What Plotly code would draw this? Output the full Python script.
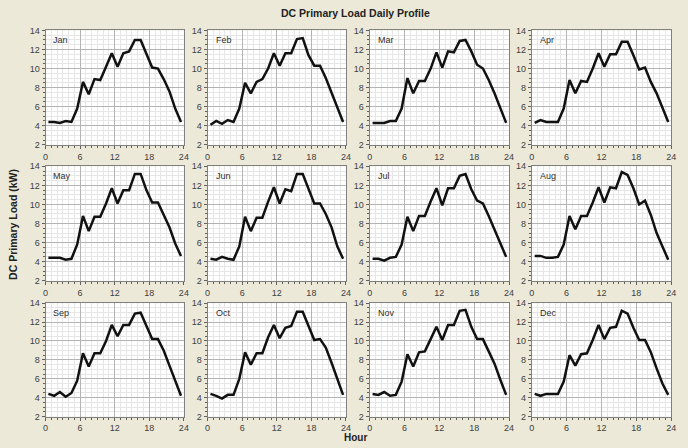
import plotly.graph_objects as go

hours = [h + 0.5 for h in range(24)]
months = ["Jan", "Feb", "Mar", "Apr", "May", "Jun", "Jul", "Aug", "Sep", "Oct", "Nov", "Dec"]

jan = [4.4, 4.4, 4.3, 4.5, 4.4, 5.8, 8.6, 7.3, 8.9, 8.8, 10.2, 11.6, 10.2, 11.6, 11.8, 13.0, 13.0, 11.6, 10.1, 10.0, 8.9, 7.6, 5.8, 4.4]
feb = [4.1, 4.5, 4.2, 4.6, 4.4, 5.8, 8.5, 7.4, 8.6, 8.9, 10.0, 11.6, 10.3, 11.6, 11.6, 13.1, 13.2, 11.4, 10.3, 10.3, 9.0, 7.5, 6.0, 4.4]
mar = [4.3, 4.3, 4.3, 4.5, 4.5, 5.8, 9.0, 7.4, 8.7, 8.7, 10.0, 11.7, 10.1, 11.8, 11.7, 12.9, 13.0, 11.8, 10.4, 10.0, 8.8, 7.4, 5.9, 4.3]
apr = [4.3, 4.6, 4.4, 4.4, 4.4, 5.8, 8.8, 7.4, 8.7, 8.6, 10.0, 11.6, 10.2, 11.5, 11.5, 12.8, 12.8, 11.4, 9.9, 10.1, 8.6, 7.4, 5.8, 4.4]
may = [4.4, 4.4, 4.4, 4.2, 4.3, 5.8, 8.8, 7.2, 8.7, 8.7, 10.1, 11.7, 10.1, 11.5, 11.5, 13.2, 13.2, 11.5, 10.2, 10.2, 8.9, 7.6, 5.9, 4.6]
jun = [4.3, 4.2, 4.5, 4.3, 4.2, 5.6, 8.7, 7.2, 8.6, 8.6, 10.3, 11.8, 10.1, 11.6, 11.4, 13.2, 13.2, 11.6, 10.1, 10.1, 9.0, 7.6, 5.6, 4.3]
jul = [4.3, 4.3, 4.1, 4.4, 4.5, 5.8, 8.7, 7.2, 8.8, 8.8, 10.3, 11.7, 9.9, 11.7, 11.7, 13.0, 13.2, 11.6, 10.4, 10.1, 8.8, 7.3, 5.8, 4.5]
aug = [4.6, 4.6, 4.4, 4.4, 4.5, 5.8, 8.8, 7.4, 8.8, 8.8, 10.2, 11.8, 10.2, 11.8, 11.7, 13.4, 13.1, 11.7, 10.0, 10.4, 8.9, 7.0, 5.6, 4.2]
sep = [4.4, 4.2, 4.6, 4.1, 4.5, 5.8, 8.7, 7.3, 8.7, 8.7, 10.0, 11.7, 10.5, 11.7, 11.7, 12.9, 13.0, 11.5, 10.2, 10.2, 9.0, 7.4, 5.7, 4.2]
oct_ = [4.4, 4.2, 3.9, 4.3, 4.3, 6.0, 8.8, 7.5, 8.7, 8.7, 10.4, 11.7, 10.3, 11.4, 11.6, 13.1, 13.1, 11.6, 10.1, 10.2, 9.3, 7.7, 6.1, 4.3]
nov = [4.4, 4.3, 4.6, 4.2, 4.3, 5.7, 8.6, 7.3, 8.8, 8.9, 10.2, 11.5, 10.1, 11.7, 11.7, 13.2, 13.3, 11.5, 10.2, 10.2, 8.9, 7.6, 5.9, 4.3]
dec = [4.4, 4.2, 4.4, 4.4, 4.4, 5.7, 8.5, 7.4, 8.6, 8.7, 10.1, 11.7, 10.2, 11.4, 11.5, 13.2, 12.9, 11.4, 10.1, 10.1, 8.8, 7.1, 5.5, 4.3]
series = [jan, feb, mar, apr, may, jun, jul, aug, sep, oct_, nov, dec]

x_ticks = [0, 6, 12, 18, 24]
y_ticks = [2, 4, 6, 8, 10, 12, 14]

W, H = 688, 448
cols_px = [(43, 183), (207, 347), (371, 512), (535, 676)]
rows_px = [(26, 143), (165, 282), (305, 421)]

BG = "#ECE9D8"
FONT = "Liberation Sans, Arial, sans-serif"

fig = go.Figure()
layout = dict(
    width=W, height=H, paper_bgcolor=BG, plot_bgcolor="white",
    margin=dict(l=0, r=0, t=0, b=0), showlegend=False,
    font=dict(family=FONT, size=9, color="#404040"),
)
annotations = []
for i, (m, ys) in enumerate(zip(months, series)):
    r, c = divmod(i, 4)
    n = "" if i == 0 else str(i + 1)
    fig.add_trace(go.Scatter(x=hours, y=ys, mode="lines",
                             line=dict(color="#111111", width=2.5),
                             xaxis="x" + n, yaxis="y" + n, hoverinfo="skip"))
    x0, x1 = cols_px[c]
    y0, y1 = rows_px[r]
    common = dict(showline=True, linecolor="#808080", linewidth=1, mirror=True,
                  ticks="outside", ticklen=3, tickcolor="#606060",
                  showgrid=True, gridcolor="#b4b4b4", gridwidth=1,
                  zeroline=False, tickfont=dict(size=9, color="#404040"))
    layout["xaxis" + n] = dict(common, domain=[x0 / W, x1 / W], range=[0, 24],
                               tickvals=x_ticks, anchor="y" + n,
                               minor=dict(dtick=1, ticks="outside", ticklen=2, tickcolor="#606060",
                                          showgrid=True, gridcolor="#e6e6e6"))
    layout["yaxis" + n] = dict(common, domain=[1 - y1 / H, 1 - y0 / H], range=[2, 14],
                               tickvals=y_ticks, anchor="x" + n,
                               minor=dict(dtick=0.5, ticks="outside", ticklen=2, tickcolor="#606060",
                                          showgrid=True, gridcolor="#e6e6e6"))
    annotations.append(dict(text=m, xref="paper", yref="paper",
                            x=(x0 + 6) / W, y=1 - (y0 + 3) / H,
                            xanchor="left", yanchor="top", showarrow=False,
                            font=dict(size=9, color="#303030", family=FONT)))

annotations.append(dict(text="<b>DC Primary Load Daily Profile</b>", xref="paper", yref="paper",
                        x=357 / W, y=1 - 8 / H, xanchor="center", yanchor="middle",
                        showarrow=False, font=dict(size=10.5, color="#222222", family=FONT)))
annotations.append(dict(text="<b>Hour</b>", xref="paper", yref="paper",
                        x=357 / W, y=1 - 442 / H, xanchor="center", yanchor="middle",
                        showarrow=False, font=dict(size=10, color="#222222", family=FONT)))
annotations.append(dict(text="<b>DC Primary Load (kW)</b>", xref="paper", yref="paper",
                        x=10 / W, y=1 - 224 / H, xanchor="center", yanchor="middle", textangle=-90,
                        showarrow=False, font=dict(size=10.5, color="#222222", family=FONT)))
layout["annotations"] = annotations
fig.update_layout(**layout)
fig.write_html("out.html", config={"displayModeBar": False},
               post_script="document.body.style.margin='0';document.body.style.overflow='hidden';")
